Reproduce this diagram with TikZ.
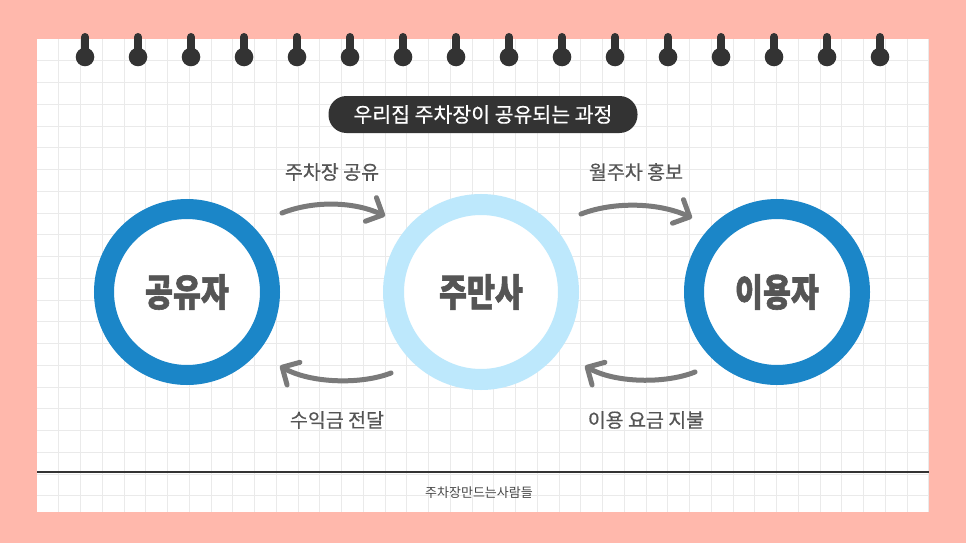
\documentclass[tikz,border=0pt]{standalone}
\usepackage{fontspec}
\usepackage{graphicx}
\newfontfamily\kr{Noto Sans CJK KR}
\newfontfamily\krm[FakeBold=0.5]{Noto Sans CJK KR}
\newfontfamily\krh[BoldFeatures={FakeBold=1.6}]{Noto Sans CJK KR}
\usetikzlibrary{arrows.meta}
\definecolor{pinkbg}{HTML}{FFB8AC}
\definecolor{gridc}{HTML}{EAEAEA}
\definecolor{darkc}{HTML}{333333}
\definecolor{ringblue}{HTML}{1B86C8}
\definecolor{ringlight}{HTML}{BDE8FC}
\definecolor{txtgray}{HTML}{555555}
\definecolor{arrowgray}{HTML}{7A7A7A}
\tikzset{
  ring/.style={circle, fill=white, inner sep=0pt, text=txtgray,
    font=\krh\bfseries\fontsize{38}{38}\selectfont},
  lbl/.style={text=txtgray, inner sep=0pt, font=\krm\fontsize{19.5}{19.5}\selectfont},
  flow/.style={arrowgray, line width=5pt, line cap=round,
    -{Straight Barb[length=13pt,width=26pt,round]}},
}
\begin{document}
\begin{tikzpicture}[x=1pt,y=-1pt]
\useasboundingbox (0,0) rectangle (966,543);
\fill[pinkbg] (0,0) rectangle (966,543);
\fill[white] (37,39) rectangle (929,512);
\begin{scope}
\clip (37,39) rectangle (929,512);
\foreach \i in {1,...,41} \draw[gridc, line width=1pt] ({37+21.75*\i},39) -- ++(0,473);
\foreach \j in {1,...,21} \draw[gridc, line width=1pt] (37,{39+21.75*\j}) -- ++(892,0);
\end{scope}
% binder pins
\foreach \k in {0,...,15} {
  \draw[darkc, line width=8pt, line cap=round] ({85+53*\k},37) -- ({85+53*\k},52);
  \fill[darkc] ({85+53*\k},57) circle[radius=9.3pt];
}
% title
\node[fill=darkc, rounded corners=18pt, minimum width=309pt, minimum height=37pt,
  text=white, inner sep=0pt, font=\krm\fontsize{20.5}{20.5}\selectfont] (title) at (483,114.5)
  {우리집 주차장이 공유되는 과정};
% circles
\node[ring, draw=ringblue, line width=20pt, minimum size=166pt] (sharer) at (187,292)
  {\scalebox{0.8}[1]{공유자}};
\node[ring, draw=ringlight, line width=21pt, minimum size=175pt] (joomansa) at (481,292)
  {\scalebox{0.8}[1]{주만사}};
\node[ring, draw=ringblue, line width=20pt, minimum size=166pt] (user) at (777,292)
  {\scalebox{0.8}[1]{이용자}};
% labels
\node[lbl] (l1) at (332,172) {주차장 공유};
\node[lbl] (l2) at (636,172) {월주차 홍보};
\node[lbl] (l3) at (337,420) {수익금 전달};
\node[lbl] (l4) at (646,420) {이용 요금 지불};
% arrows
\coordinate (a1s) at (282,213); \coordinate (a1e) at (385,216);
\coordinate (a2s) at (581,214); \coordinate (a2e) at (692,218);
\coordinate (a3s) at (391,373); \coordinate (a3e) at (280,366);
\coordinate (a4s) at (695,372); \coordinate (a4e) at (585,366);
\draw[flow] (a1s) .. controls (315,200) and (355,202) .. (a1e);
\draw[flow] (a2s) .. controls (615,201) and (660,203) .. (a2e);
\draw[flow] (a3s) .. controls (360,385) and (310,383) .. (a3e);
\draw[flow] (a4s) .. controls (665,384) and (615,383) .. (a4e);
% footer
\coordinate (rl) at (37,471.5); \coordinate (rr) at (929,471.5);
\draw[darkc, line width=2pt] (rl) -- (rr);
\node[text=darkc!90, inner sep=0pt, font=\kr\fontsize{13}{13}\selectfont] (foot) at (479,493)
  {주차장만드는사람들};
\end{tikzpicture}
\end{document}
